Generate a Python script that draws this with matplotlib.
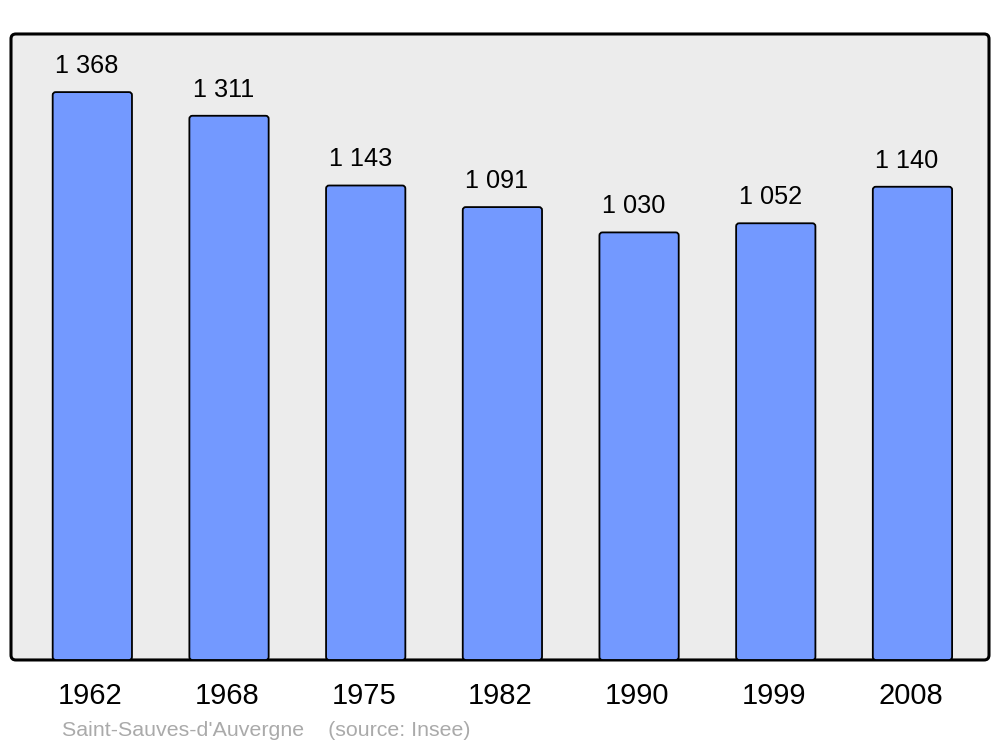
import matplotlib.pyplot as plt
import matplotlib.transforms as mtransforms
from matplotlib.patches import FancyBboxPatch

years = ["1962", "1968", "1975", "1982", "1990", "1999", "2008"]
population = [1368, 1311, 1143, 1091, 1030, 1052, 1140]
value_labels = ["1 368", "1 311", "1 143", "1 091", "1 030", "1 052", "1 140"]

plt.rcParams['font.family'] = ['Liberation Sans', 'DejaVu Sans']

fig = plt.figure(figsize=(10, 7.47), dpi=100)
ax = fig.add_axes([0.011, 0.1165, 0.978, 0.838])
ax.set_facecolor("none")

# rounded frame behind everything
frame = FancyBboxPatch((0, 0), 1, 1, boxstyle="round,pad=0,rounding_size=0.005",
                       mutation_aspect=978 / 626, transform=ax.transAxes,
                       facecolor="#ececec", edgecolor="black", linewidth=2.2,
                       clip_on=False, zorder=0)
ax.add_patch(frame)

xs = list(range(len(years)))
bars = ax.bar(xs, population, width=0.58, alpha=0)

# redraw bars with slightly rounded corners
for b in bars:
    p = FancyBboxPatch((b.get_x(), b.get_y()), b.get_width(), b.get_height(),
                       boxstyle="round,pad=0,rounding_size=0.022",
                       mutation_aspect=330, facecolor="#7399ff",
                       edgecolor="black", linewidth=1.3, zorder=2)
    ax.add_patch(p)

for x, v, lab in zip(xs, population, value_labels):
    ax.text(x - 0.04, v + 34, lab, ha="center", va="bottom", fontsize=18.2)

ax.set_xlim(-0.595, 6.56)
ax.set_ylim(0, 1508)
ax.set_xticks(xs)
ax.set_xticklabels(years, fontsize=21)
ax.tick_params(axis="x", length=0, pad=16)
shift = mtransforms.ScaledTranslation(-2 / 100, 0, fig.dpi_scale_trans)
for t in ax.get_xticklabels():
    t.set_transform(t.get_transform() + shift)
ax.set_yticks([])
for s in ax.spines.values():
    s.set_visible(False)

fig.text(0.062, 0.009, "Saint-Sauves-d'Auvergne    (source: Insee)",
         color="#aaaaaa", fontsize=15.4, ha="left", va="bottom")

fig.savefig("out.png", dpi=100)
